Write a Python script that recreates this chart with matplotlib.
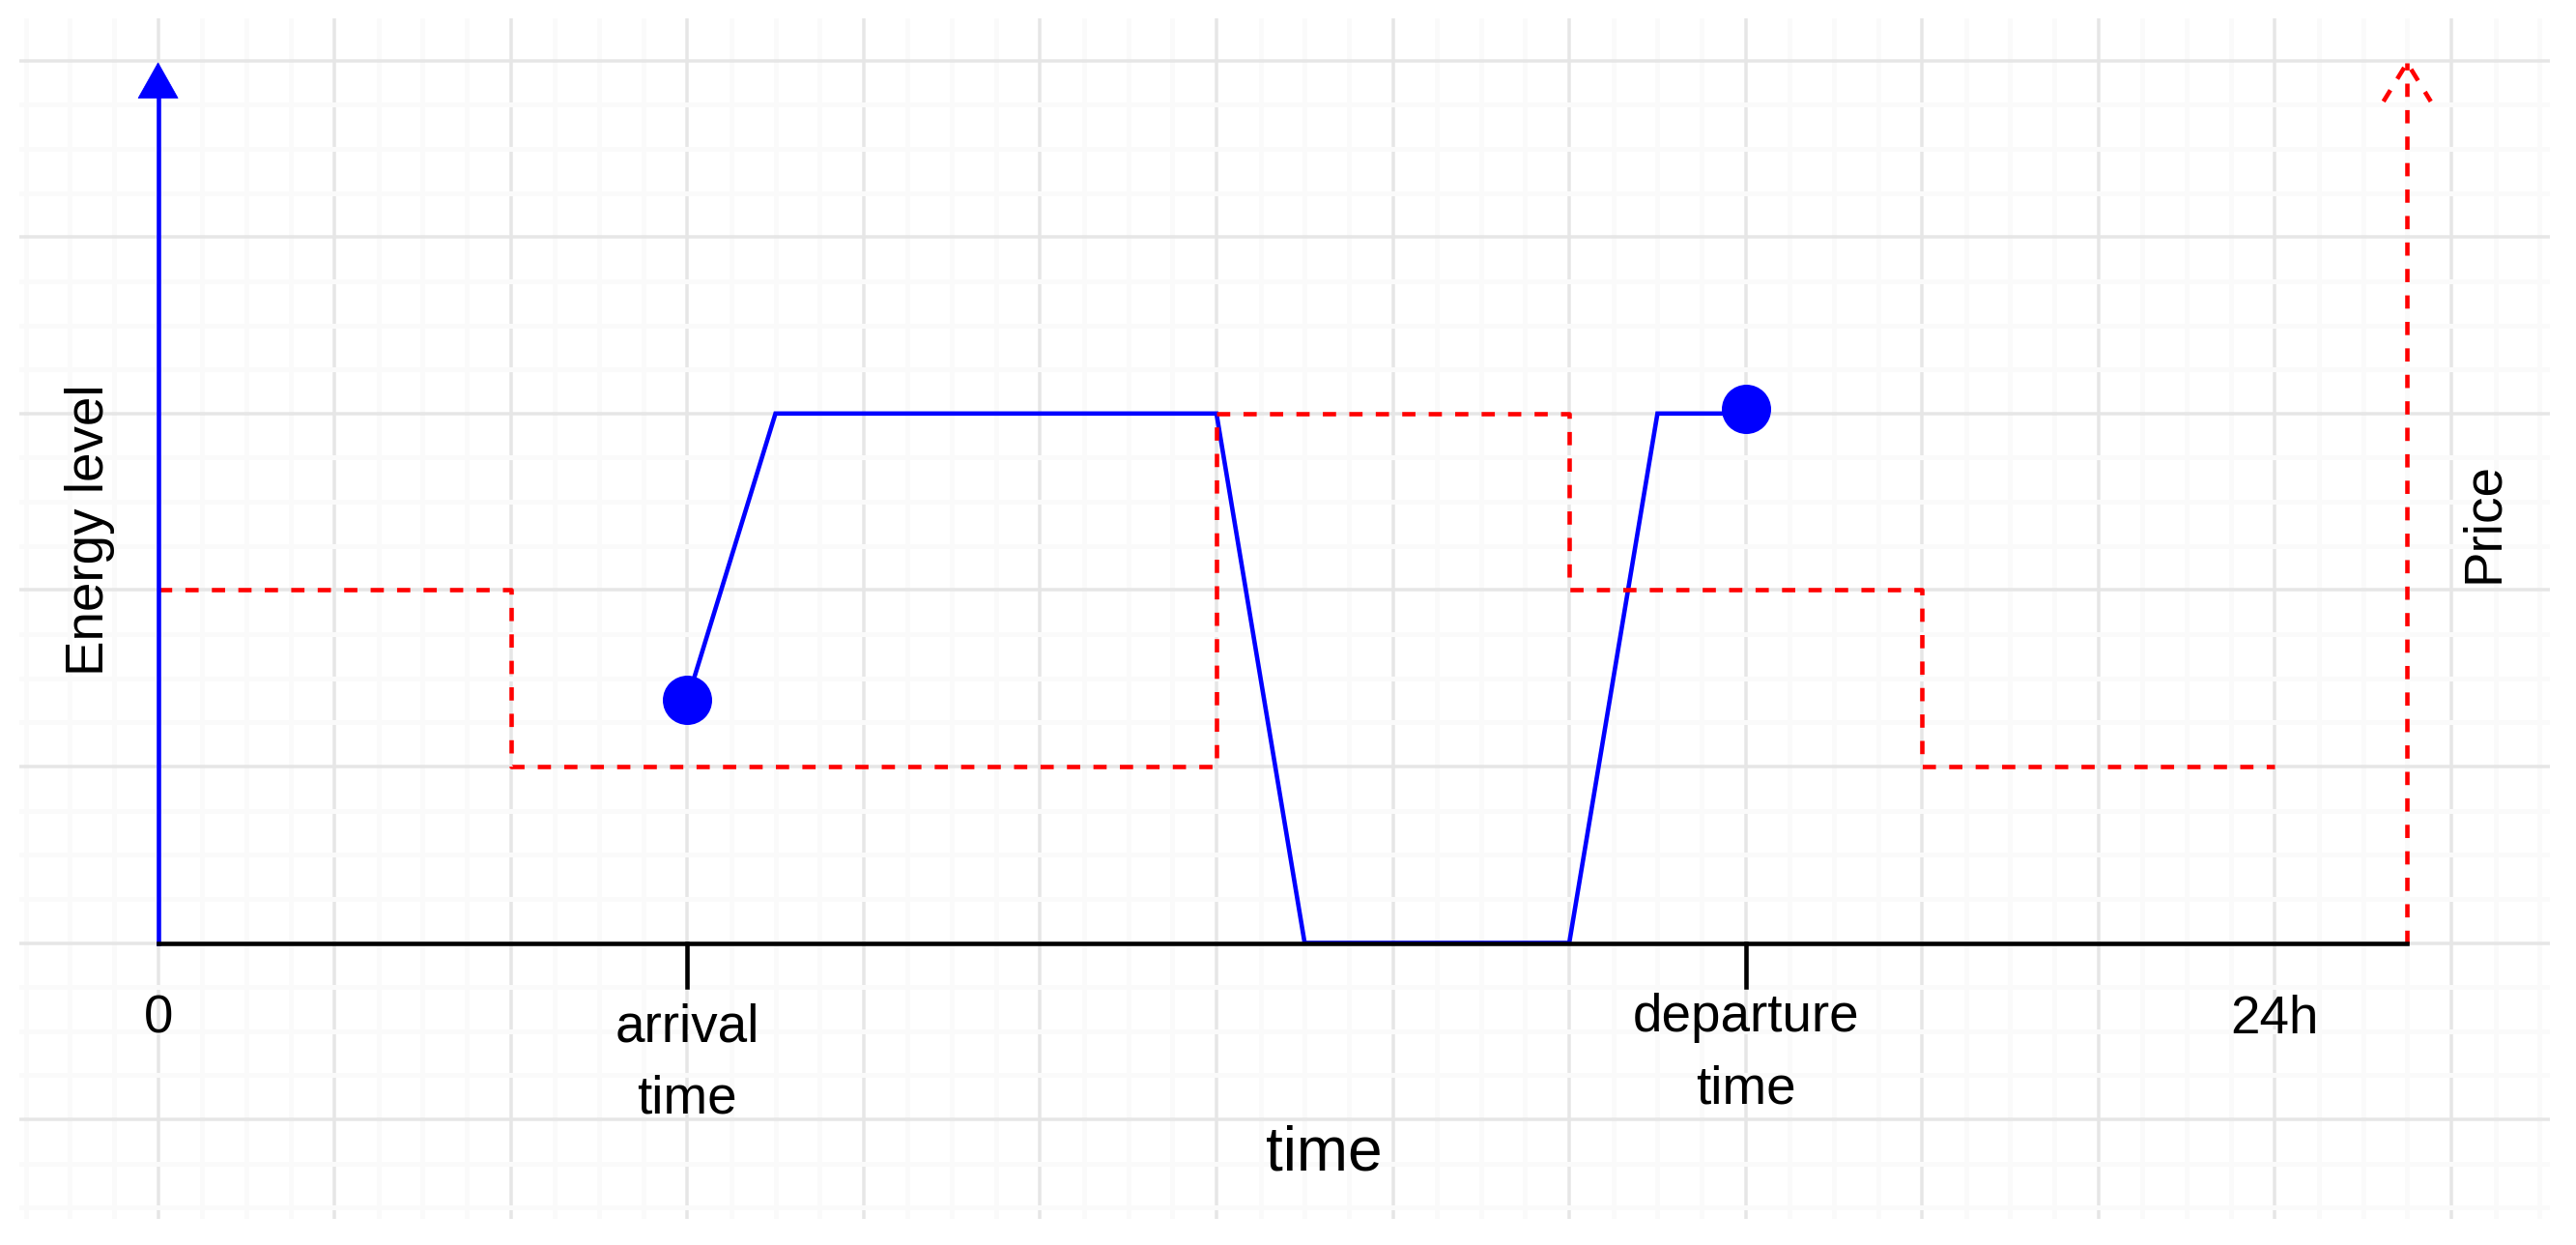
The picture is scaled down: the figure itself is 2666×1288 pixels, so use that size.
import matplotlib
matplotlib.use("Agg")
import matplotlib.pyplot as plt
from matplotlib.patches import Polygon
import numpy as np

# ---------------- data (grid units: 1 minor grid cell = 1) ----------------
energy_x = [12, 14, 24, 26, 32, 34, 36]
energy_y = [5.5, 12, 12, 0, 0, 12, 12]
event_x = [12, 36]
event_y = [5.5, 12.1]
price_edges = [0, 8, 24, 32, 40, 48]
price_levels = [8, 4, 12, 8, 4]
tick_positions = [0, 12, 36, 48]
tick_labels = ["0", "arrival\ntime", "departure\ntime", "24h"]
tick_label_y = [-2.03, -3.86, -3.64, -2.05]   # baseline of the last line
marked_ticks = [12, 36]
time_axis_end = 51
axis_top = 19.95

# ---------------- layout ----------------
W, H, DPI = 2666, 1288, 100
U = 45.64              # pixels per grid unit
X0, Y0 = 163.6, 975.5  # pixel position of the origin
gx0, gx1, gy0, gy1 = 20, 2639, 19, 1261  # grid area in pixels

px2pt = 72.0 / DPI
fs12 = 12 * U / 10 * px2pt
fs14 = 14 * U / 10 * px2pt
lw = U / 10 * px2pt

plt.rcParams['font.family'] = ['Liberation Sans', 'DejaVu Sans']

fig = plt.figure(figsize=(W / DPI, H / DPI), dpi=DPI, facecolor='white')
ax = fig.add_axes([gx0 / W, 1 - gy1 / H, (gx1 - gx0) / W, (gy1 - gy0) / H])
ax.set_xlim((gx0 - X0) / U, (gx1 - X0) / U)
ax.set_ylim((Y0 - gy1) / U, (Y0 - gy0) / U)

# grid
ax.set_xticks(np.arange(0, 55, 4))
ax.set_xticks(np.arange(-3, 55, 1), minor=True)
ax.set_yticks(np.arange(-4, 21, 4))
ax.set_yticks(np.arange(-6, 21, 1), minor=True)
ax.grid(which='minor', color='#fafafa', linewidth=5 * px2pt)
ax.grid(which='major', color='#e6e6e6', linewidth=3.5 * px2pt)
ax.set_axisbelow(True)
ax.tick_params(which='both', length=0, labelbottom=False, labelleft=False)
for s in ax.spines.values():
    s.set_visible(False)

# energy level curve
ax.plot(energy_x, energy_y, color='#0000ff', linewidth=lw, solid_joinstyle='miter', zorder=3)

# price step curve
ax.step(price_edges, price_levels + [price_levels[-1]], where='post',
        color='#ff0000', linewidth=lw, linestyle=(0, (3, 3)), zorder=4)

# energy axis (blue, filled arrow)
ax.plot([0, 0], [0, axis_top - 0.75], color='#0000ff', linewidth=lw, zorder=5)
ax.add_patch(Polygon([(-0.45, axis_top - 0.8), (0, axis_top), (0.45, axis_top - 0.8)],
                     closed=True, facecolor='#0000ff', edgecolor='#0000ff', linewidth=0.5, zorder=5))

# price axis (red dashed, open arrow)
ax.plot([time_axis_end, time_axis_end], [0, axis_top], color='#ff0000', linewidth=lw,
        linestyle=(0, (3, 3)), zorder=5)
ax.plot([time_axis_end - 0.537, time_axis_end, time_axis_end + 0.537],
        [axis_top - 0.876, axis_top, axis_top - 0.876], color='#ff0000', linewidth=lw,
        linestyle=(0, (3, 3)), zorder=5)

# time axis (black)
ax.plot([0, time_axis_end], [0, 0], color='black', linewidth=lw, zorder=6)
for t in marked_ticks:
    ax.plot([t, t], [0, -1], color='black', linewidth=lw, zorder=6)

# arrival / departure points
ax.plot(event_x, event_y, linestyle='none', marker='o', markersize=51 * px2pt,
        color='#0000ff', markeredgewidth=0, zorder=7)

# labels
for x, lab, y in zip(tick_positions, tick_labels, tick_label_y):
    ax.text(x, y, lab, ha='center', va='baseline', multialignment='center',
            fontsize=fs12, linespacing=1.56, color='black')
ax.text(26.45, -5.14, "time", ha='center', va='baseline', fontsize=fs14, color='black')
ax.text(-1.247, 9.36, "Energy level", rotation=90, rotation_mode='anchor',
        ha='center', va='baseline', fontsize=fs12, color='black')
ax.text(53.05, 9.54, "Price", rotation=90, rotation_mode='anchor',
        ha='center', va='baseline', fontsize=fs12, color='black')

fig.savefig('out.png', dpi=DPI, facecolor='white')
